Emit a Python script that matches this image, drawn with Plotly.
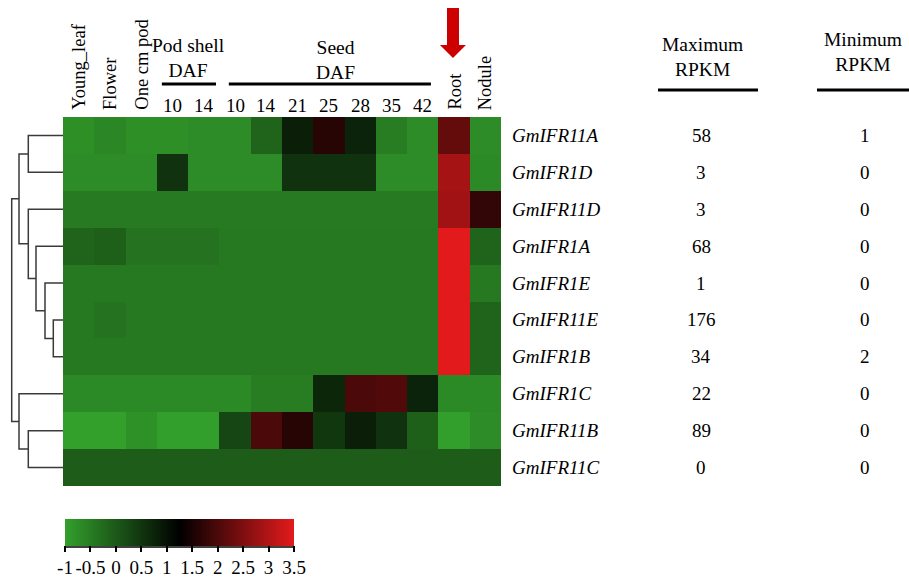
import plotly.graph_objects as go

W, H = 909, 588
FONT = "Liberation Serif"

# ---------------- data ----------------
tissues = ["Young_leaf", "Flower", "One cm pod", "Pod shell 10", "Pod shell 14",
           "Seed 10", "Seed 14", "Seed 21", "Seed 25", "Seed 28", "Seed 35", "Seed 42",
           "Root", "Nodule"]
top_labels = ["Young_leaf", "Flower", "One cm pod", "10", "14", "10", "14", "21", "25",
              "28", "35", "42", "Root", "Nodule"]
rotated_cols = [0, 1, 2, 12, 13]
genes = ["GmIFR11A", "GmIFR1D", "GmIFR11D", "GmIFR1A", "GmIFR1E",
         "GmIFR11E", "GmIFR1B", "GmIFR1C", "GmIFR11B", "GmIFR11C"]

GmIFR11A = [-0.76, -0.65, -0.76, -0.76, -0.72, -0.72, -0.16, 0.83, 1.65, 0.76, -0.51, -0.72, 2.24, -0.72]
GmIFR1D  = [-0.72, -0.72, -0.72, 0.55, -0.72, -0.72, -0.72, 0.55, 0.55, 0.55, -0.72, -0.72, 2.89, -0.69]
GmIFR11D = [-0.46, -0.46, -0.46, -0.46, -0.46, -0.46, -0.46, -0.46, -0.46, -0.46, -0.46, -0.46, 2.84, 1.75]
GmIFR1A  = [-0.16, -0.09, -0.37, -0.37, -0.37, -0.44, -0.44, -0.44, -0.44, -0.44, -0.44, -0.44, 3.5, -0.16]
GmIFR1E  = [-0.45, -0.45, -0.45, -0.45, -0.45, -0.45, -0.45, -0.45, -0.45, -0.45, -0.45, -0.45, 3.5, -0.45]
GmIFR11E = [-0.45, -0.37, -0.45, -0.45, -0.45, -0.45, -0.45, -0.45, -0.45, -0.45, -0.45, -0.45, 3.5, -0.16]
GmIFR1B  = [-0.45, -0.45, -0.45, -0.45, -0.45, -0.45, -0.45, -0.45, -0.45, -0.45, -0.45, -0.45, 3.5, -0.16]
GmIFR1C  = [-0.69, -0.69, -0.69, -0.69, -0.69, -0.69, -0.51, -0.51, 0.72, 1.99, 2.06, 0.76, -0.69, -0.69]
GmIFR11B = [-1.0, -1.0, -0.79, -0.97, -0.97, 0.27, 1.99, 1.65, 0.48, 0.83, 0.55, -0.09, -0.97, -0.72]
GmIFR11C = [-0.04, -0.04, -0.04, -0.04, -0.04, -0.04, -0.04, -0.04, -0.04, -0.04, -0.04, -0.04, -0.04, -0.04]

max_rpkm = [58, 3, 3, 68, 1, 176, 34, 22, 89, 0]
min_rpkm = [1, 0, 0, 0, 0, 0, 2, 0, 0, 0]

cbar_vals = [-1, -0.5, 0, 0.5, 1, 1.5, 2, 2.5, 3, 3.5]
cbar_text = ["-1", "-0.5", "0", "0.5", "1", "1.5", "2", "2.5", "3", "3.5"]

# dendrogram merges: (left child, right child, height); leaves 0..9, new nodes 10, 11, ...
merges = [(5, 6, 9.7), (4, 10, 18.0), (3, 11, 27.0), (2, 12, 34.7), (0, 1, 34.7),
          (14, 13, 44.0), (8, 9, 34.7), (7, 16, 44.0), (15, 17, 51.3)]

# ---------------- helpers ----------------
def px(x):
    return x / W

def py(y):
    return 1 - y / H

z = [GmIFR11A, GmIFR1D, GmIFR11D, GmIFR1A, GmIFR1E, GmIFR11E, GmIFR1B, GmIFR1C, GmIFR11B, GmIFR11C]

colorscale = [[0.0, "rgb(51,160,44)"], [0.5, "rgb(0,0,0)"], [1.0, "rgb(227,26,28)"]]

fig = go.Figure()
fig.add_trace(go.Heatmap(
    z=z, x=list(range(len(tissues))), y=list(range(len(genes))),
    zmin=-1, zmax=3.5, colorscale=colorscale, xgap=0, ygap=0,
    colorbar=dict(
        orientation="h", x=px(65), xanchor="left", y=py(519), yanchor="top",
        len=229, lenmode="pixels", thickness=27, thicknessmode="pixels",
        xpad=0, ypad=0, outlinewidth=0,
        tickmode="array", tickvals=cbar_vals, ticktext=cbar_text,
        ticks="outside", ticklen=6, tickwidth=1.5, tickcolor="black", tickangle=0,
        tickfont=dict(family=FONT, size=19, color="black"),
    ),
    hoverinfo="skip",
))

# dendrogram
pos = {i: (float(i), 0.0) for i in range(len(genes))}
dx, dy = [], []
node = len(genes)
for l, r, h in merges:
    yl, hl = pos[l]
    yr, hr = pos[r]
    dx += [hl, h, h, hr, None]
    dy += [yl, yl, yr, yr, None]
    pos[node] = ((yl + yr) / 2, h)
    node += 1
fig.add_trace(go.Scatter(x=dx, y=dy, mode="lines", xaxis="x2", yaxis="y",
                         line=dict(color="#3a3a3a", width=1.5), hoverinfo="skip",
                         showlegend=False))

fig.update_layout(
    width=W, height=H, margin=dict(l=0, r=0, t=0, b=0),
    paper_bgcolor="white", plot_bgcolor="white", showlegend=False,
    xaxis=dict(domain=[px(63), px(501)], range=[-0.5, len(tissues) - 0.5],
               visible=False, fixedrange=True),
    yaxis=dict(domain=[py(486), py(117)], range=[len(genes) - 0.5, -0.5],
               visible=False, fixedrange=True),
    xaxis2=dict(domain=[0, px(63)], range=[63, 0], visible=False, anchor="y"),
    font=dict(family=FONT, color="black"),
)

ann = []
# top labels
for i, t in enumerate(top_labels):
    if i in rotated_cols:
        ann.append(dict(text=t, x=i, xref="x", y=py(112), yref="paper", textangle=-90,
                        xanchor="center", yanchor="bottom", showarrow=False,
                        font=dict(family=FONT, size=18.5)))
    else:
        ann.append(dict(text=t, x=i, xref="x", y=py(106), yref="paper",
                        xanchor="center", yanchor="middle", showarrow=False,
                        font=dict(family=FONT, size=19)))
ann.append(dict(text="Pod shell<br>DAF", x=3.5, xref="x", y=py(58), yref="paper",
                xanchor="center", yanchor="middle", showarrow=False,
                font=dict(family=FONT, size=19.5)))
ann.append(dict(text="Seed<br>DAF", x=8.2, xref="x", y=py(60), yref="paper",
                xanchor="center", yanchor="middle", showarrow=False,
                font=dict(family=FONT, size=19.5)))
# gene labels and RPKM
for i, g in enumerate(genes):
    ann.append(dict(text="<i>%s</i>" % g, x=px(510), xref="paper", y=i, yref="y",
                    xanchor="left", yanchor="middle", showarrow=False,
                    font=dict(family=FONT, size=19)))
    ann.append(dict(text=str(max_rpkm[i]), x=px(701), xref="paper", y=i, yref="y",
                    xanchor="center", yanchor="middle", showarrow=False,
                    font=dict(family=FONT, size=19)))
    ann.append(dict(text=str(min_rpkm[i]), x=px(865), xref="paper", y=i, yref="y",
                    xanchor="center", yanchor="middle", showarrow=False,
                    font=dict(family=FONT, size=19)))
ann.append(dict(text="Maximum<br>RPKM", x=px(702), xref="paper", y=py(57), yref="paper",
                xanchor="center", yanchor="middle", showarrow=False,
                font=dict(family=FONT, size=19.5)))
ann.append(dict(text="Minimum<br>RPKM", x=px(863), xref="paper", y=py(52), yref="paper",
                xanchor="center", yanchor="middle", showarrow=False,
                font=dict(family=FONT, size=19.5)))
fig.update_layout(annotations=ann)

shapes = []
# group underlines
shapes.append(dict(type="line", xref="x", yref="paper", x0=2.66, x1=4.39, y0=py(84), y1=py(84),
                   line=dict(color="black", width=3)))
shapes.append(dict(type="line", xref="x", yref="paper", x0=4.80, x1=11.26, y0=py(84), y1=py(84),
                   line=dict(color="black", width=3)))
# header underlines
shapes.append(dict(type="line", xref="paper", yref="paper", x0=px(658), x1=px(758), y0=py(90), y1=py(90),
                   line=dict(color="black", width=3)))
shapes.append(dict(type="line", xref="paper", yref="paper", x0=px(817), x1=px(909), y0=py(90), y1=py(90),
                   line=dict(color="black", width=3)))
# colorbar base line
shapes.append(dict(type="line", xref="paper", yref="paper", x0=px(65), x1=px(294), y0=py(547), y1=py(547),
                   line=dict(color="black", width=1.5)))
# red arrow pointing at Root
arrow_pts = [(447, 8), (459, 8), (459, 45), (466, 45), (453, 58), (440, 45), (447, 45)]
path = "M " + " L ".join("%.5f %.5f" % (px(a), py(b)) for a, b in arrow_pts) + " Z"
shapes.append(dict(type="path", xref="paper", yref="paper", path=path,
                   fillcolor="#cc0000", line=dict(color="#cc0000", width=0)))
fig.update_layout(shapes=shapes)

fig.write_html("out.html", config={"displayModeBar": False},
               post_script="document.body.style.margin='0px';")
